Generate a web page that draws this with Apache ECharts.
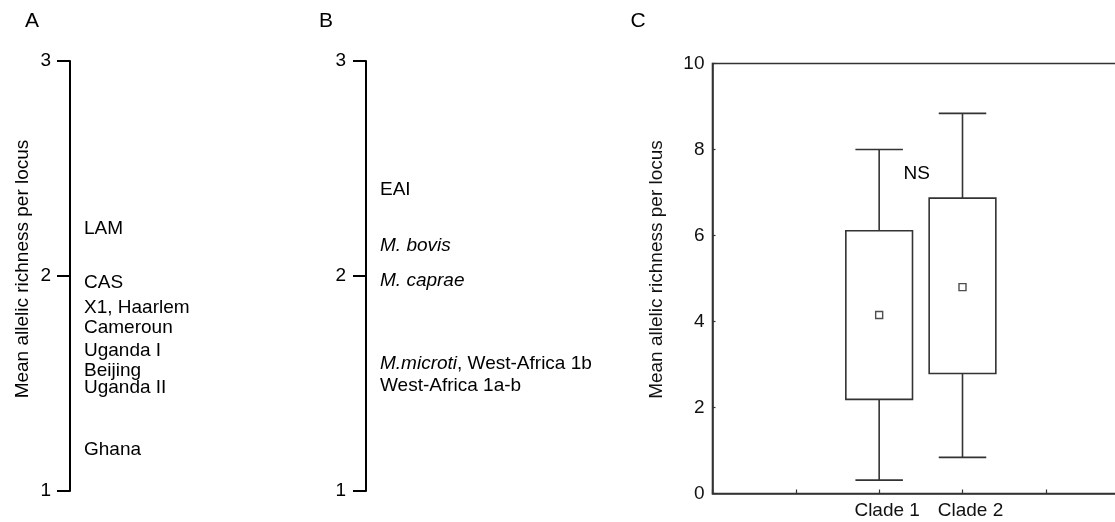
<!DOCTYPE html>
<html><head><meta charset="utf-8">
<script src="https://cdn.jsdelivr.net/npm/echarts@6/dist/echarts.min.js"></script>
<style>html,body{margin:0;padding:0;background:#fff}#c{width:1115px;height:522px}</style>
</head><body><div id="c"></div>
<script>
// Panel A
const lineagesA = ['LAM', 'CAS', 'X1, Haarlem', 'Cameroun', 'Uganda I', 'Beijing', 'Uganda II', 'Ghana'];
const richnessA = [2.22, 1.97, 1.85, 1.76, 1.65, 1.56, 1.48, 1.19];
// Panel B (italic species names marked with rich-text tags)
const lineagesB = ['EAI', '{i|M. bovis}', '{i|M. caprae}', '{i|M.microti}, West-Africa 1b', 'West-Africa 1a-b'];
const richnessB = [2.40, 2.14, 1.98, 1.59, 1.49];
// Panel C
const clades = ['Clade 1', 'Clade 2'];
const cladeMin = [0.31, 0.84];
const cladeQ1 = [2.19, 2.79];
const cladeQ3 = [6.11, 6.87];
const cladeMax = [8.00, 8.84];
const cladeMean = [4.15, 4.80];
const nsNote = 'NS';
const yTitle = 'Mean allelic richness per locus';

const FONT = "'Liberation Sans', Arial, sans-serif";
const FS = 19;
const cladeX = clades.map((c, i) => i + 2);

const chart = echarts.init(document.getElementById('c'), null, {renderer: 'canvas'});

function labelSeries(names, values, xAxisIndex, yAxisIndex, rich) {
  return {
    type: 'scatter', xAxisIndex, yAxisIndex, symbolSize: 0, silent: true,
    itemStyle: {color: '#fff', opacity: 1},
    data: names.map((n, i) => ({name: n, value: [0, values[i]]})),
    label: {
      show: true, position: 'right', distance: 14, formatter: p => p.name,
      fontFamily: FONT, fontSize: FS, color: '#000', opacity: 1, rich: rich || {}
    }
  };
}

function renderBox(params, api) {
  const x = api.value(0);
  const pMin = api.coord([x, api.value(1)]);
  const pQ1 = api.coord([x, api.value(2)]);
  const pQ3 = api.coord([x, api.value(3)]);
  const pMax = api.coord([x, api.value(4)]);
  const bw = api.size([0.8, 0])[0];
  const cw = api.size([0.57, 0])[0];
  const st = {stroke: '#333', lineWidth: 1.6, fill: null};
  return {type: 'group', children: [
    {type: 'line', shape: {x1: pMax[0], y1: pMax[1], x2: pQ3[0], y2: pQ3[1]}, style: st},
    {type: 'line', shape: {x1: pMax[0] - cw / 2, y1: pMax[1], x2: pMax[0] + cw / 2, y2: pMax[1]}, style: st},
    {type: 'line', shape: {x1: pMin[0], y1: pMin[1], x2: pQ1[0], y2: pQ1[1]}, style: st},
    {type: 'line', shape: {x1: pMin[0] - cw / 2, y1: pMin[1], x2: pMin[0] + cw / 2, y2: pMin[1]}, style: st},
    {type: 'rect', shape: {x: pQ3[0] - bw / 2, y: pQ3[1], width: bw, height: pQ1[1] - pQ3[1]},
      style: {stroke: '#333', lineWidth: 1.6, fill: '#fff'}}
  ]};
}

const abAxis = (marginLbl) => ({
  type: 'value', min: 1, max: 3, interval: 1,
  axisLine: {show: true, lineStyle: {color: '#000', width: 2}},
  axisTick: {show: true, inside: false, length: 13, lineStyle: {color: '#000', width: 2}},
  axisLabel: {fontFamily: FONT, fontSize: FS, color: '#000', margin: marginLbl},
  splitLine: {show: false}
});

const option = {
  animation: false,
  backgroundColor: '#fff',
  textStyle: {fontFamily: FONT},
  graphic: [
    {type: 'text', x: 32, y: 21, style: {text: 'A', font: '21px ' + FONT, fill: '#000', align: 'center', verticalAlign: 'middle'}},
    {type: 'text', x: 326, y: 21, style: {text: 'B', font: '21px ' + FONT, fill: '#000', align: 'center', verticalAlign: 'middle'}},
    {type: 'text', x: 638, y: 21, style: {text: 'C', font: '21px ' + FONT, fill: '#000', align: 'center', verticalAlign: 'middle'}}
  ],
  grid: [
    {left: 70, top: 61, height: 430, width: 200, outerBoundsMode: 'none'},
    {left: 366, top: 61, height: 430, width: 200, outerBoundsMode: 'none'},
    {left: 712.5, top: 63.5, height: 430, width: 500, outerBoundsMode: 'none', containLabel: false,
      show: true, borderColor: '#333', borderWidth: 1.6, backgroundColor: 'rgba(0,0,0,0)'}
  ],
  xAxis: [
    {gridIndex: 0, type: 'value', min: 0, max: 1, show: false},
    {gridIndex: 1, type: 'value', min: 0, max: 1, show: false},
    {gridIndex: 2, type: 'value', min: 0, max: 6, interval: 1,
      axisLine: {show: true, onZero: false, lineStyle: {color: '#333', width: 1.6}},
      axisTick: {show: true, inside: true, length: 4, lineStyle: {color: '#333', width: 1.2}},
      axisLabel: {fontFamily: FONT, fontSize: FS, color: '#111', margin: 8, padding: [0, 0, 0, 16],
        formatter: v => { const i = cladeX.indexOf(v); return i >= 0 ? clades[i] : ''; }},
      splitLine: {show: false}}
  ],
  yAxis: [
    Object.assign(abAxis(19), {gridIndex: 0, name: yTitle, nameLocation: 'middle', nameRotate: 90, nameGap: 38,
      nameTextStyle: {fontFamily: FONT, fontSize: FS, color: '#000', padding: [0, 0, 0, 14]}}),
    Object.assign(abAxis(20), {gridIndex: 1}),
    {gridIndex: 2, type: 'value', min: 0, max: 10, interval: 2,
      name: yTitle, nameLocation: 'middle', nameRotate: 90, nameGap: 46,
      nameTextStyle: {fontFamily: FONT, fontSize: FS, color: '#111', padding: [0, 0, 0, 18]},
      axisLine: {show: true, lineStyle: {color: '#333', width: 1.6}},
      axisTick: {show: true, inside: true, length: 3, lineStyle: {color: '#333', width: 1.2}},
      axisLabel: {fontFamily: FONT, fontSize: FS, color: '#111', margin: 8},
      splitLine: {show: false}}
  ],
  series: [
    labelSeries(lineagesA, richnessA, 0, 0),
    labelSeries(lineagesB, richnessB, 1, 1, {i: {fontStyle: 'italic', fontFamily: FONT, fontSize: FS, color: '#000'}}),
    {type: 'custom', xAxisIndex: 2, yAxisIndex: 2, renderItem: renderBox, silent: true,
      encode: {x: 0, y: [1, 2, 3, 4]},
      data: clades.map((c, i) => [cladeX[i], cladeMin[i], cladeQ1[i], cladeQ3[i], cladeMax[i]]), z: 2},
    {type: 'scatter', xAxisIndex: 2, yAxisIndex: 2, symbol: 'rect', symbolSize: 7, silent: true, z: 5,
      itemStyle: {color: '#fff', borderColor: '#222', borderWidth: 1.4},
      data: clades.map((c, i) => [cladeX[i], cladeMean[i]])},
    {type: 'scatter', xAxisIndex: 2, yAxisIndex: 2, symbolSize: 0, silent: true, z: 5,
      itemStyle: {color: '#fff', opacity: 1},
      data: [{name: nsNote, value: [2.45, 7.44]}],
      label: {show: true, position: 'top', distance: -10, formatter: p => p.name, fontFamily: FONT, fontSize: FS,
        color: '#000', opacity: 1, textBorderWidth: 0}}
  ]
};
chart.setOption(option);
</script>
</body></html>
